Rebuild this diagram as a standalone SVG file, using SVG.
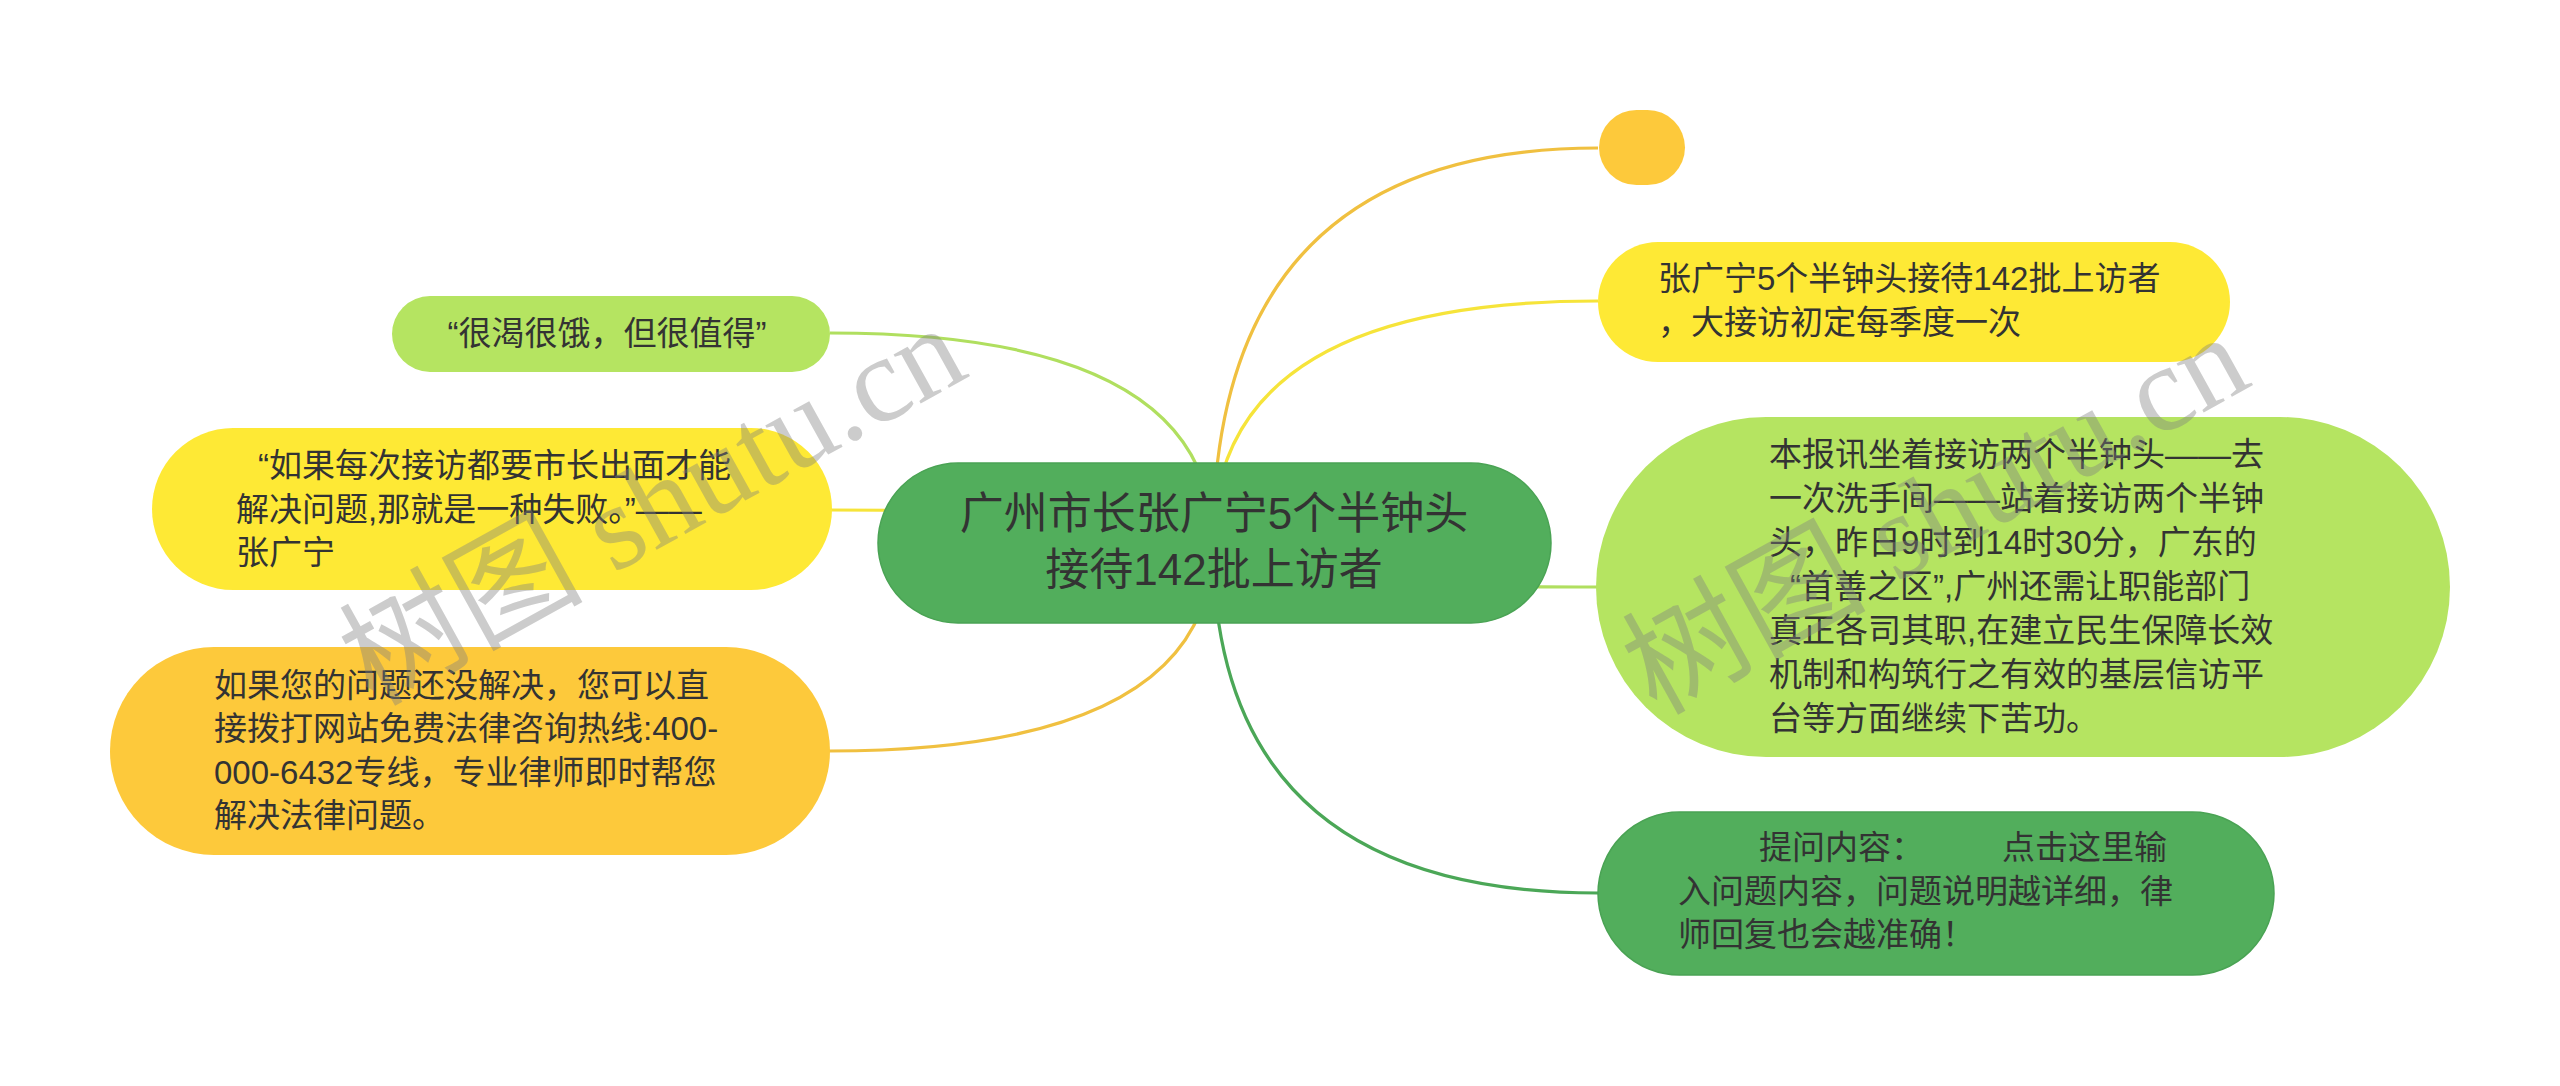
<svg xmlns="http://www.w3.org/2000/svg" width="2560" height="1086" viewBox="0 0 2560 1086">
<style>
.t{font-family:"Liberation Sans","Noto Sans CJK SC",sans-serif;font-size:33px;fill:#333333}
.c{font-size:44px}
.ln{fill:none;stroke-width:3.2}
.wm{font-family:"Liberation Serif","Noto Sans CJK SC",serif;font-size:122px;fill:#808080;fill-opacity:0.4}
</style>
<rect width="2560" height="1086" fill="#ffffff"/>
<g id="connectors">
<path class="ln" stroke="#f0c040" d="M1213 543 Q1213 148 1598 148"/>
<path class="ln" stroke="#f6e43a" d="M1213 543 Q1213 301 1598 301"/>
<path class="ln" stroke="#b0df5f" d="M1213 543 Q1213 587 1598 587"/>
<path class="ln" stroke="#4ba757" d="M1213 543 Q1213 893 1598 893"/>
<path class="ln" stroke="#b0df5f" d="M1213 543 Q1213 333 830 333"/>
<path class="ln" stroke="#f6e43a" d="M1213 543 Q1213 510 830 510"/>
<path class="ln" stroke="#f0c040" d="M1213 543 Q1213 751 829 751"/>
</g>
<g id="center">
<rect x="878" y="463" width="673" height="160" rx="80" fill="#52ae5c" stroke="#4aa354" stroke-width="1.5"/>
<text class="t c" text-anchor="middle"><tspan x="1214" y="529">广州市长张广宁5个半钟头</tspan><tspan x="1214" y="585">接待142批上访者</tspan></text>
</g>
<g id="node-circle">
<rect x="1599" y="110" width="86" height="75" rx="37.5" fill="#fdc93b"/>
</g>
<g id="node-top-right">
<rect x="1598" y="242" width="632" height="120" rx="60" fill="#fee935"/>
<text class="t"><tspan x="1658" y="290">张广宁5个半钟头接待142批上访者</tspan><tspan x="1658" y="334">，大接访初定每季度一次</tspan></text>
</g>
<g id="node-big-right">
<rect x="1596" y="417" width="854" height="340" rx="170" fill="#b5e461"/>
<text class="t"><tspan x="1769" y="466">本报讯坐着接访两个半钟头——去</tspan><tspan x="1769" y="510">一次洗手间——站着接访两个半钟</tspan><tspan x="1769" y="554">头，昨日9时到14时30分，广东的</tspan><tspan x="1790" y="598">“首善之区”,广州还需让职能部门</tspan><tspan x="1769" y="642">真正各司其职,在建立民生保障长效</tspan><tspan x="1769" y="686">机制和构筑行之有效的基层信访平</tspan><tspan x="1769" y="730">台等方面继续下苦功。</tspan></text>
</g>
<g id="node-bottom-right">
<rect x="1598" y="812" width="676" height="163" rx="81.5" fill="#52ae5c" stroke="#4aa354" stroke-width="1.5"/>
<text class="t"><tspan x="1759" y="859">提问内容：</tspan><tspan x="2002" y="859">点击这里输</tspan><tspan x="1678" y="903">入问题内容，问题说明越详细，律</tspan><tspan x="1678" y="946">师回复也会越准确！</tspan></text>
</g>
<g id="node-left-1">
<rect x="392" y="296" width="438" height="76" rx="38" fill="#b5e461"/>
<text class="t" text-anchor="middle" x="607" y="345">“很渴很饿，但很值得”</text>
</g>
<g id="node-left-2">
<rect x="152" y="428" width="680" height="162" rx="81" fill="#fee935"/>
<text class="t"><tspan x="258" y="477">“如果每次接访都要市长出面才能</tspan><tspan x="236" y="521">解决问题,那就是一种失败。”——</tspan><tspan x="236" y="564">张广宁</tspan></text>
</g>
<g id="node-left-3">
<rect x="110" y="647" width="720" height="208" rx="104" fill="#fdc93b"/>
<text class="t"><tspan x="214" y="697">如果您的问题还没解决，您可以直</tspan><tspan x="214" y="740">接拨打网站免费法律咨询热线:400-</tspan><tspan x="214" y="784">000-6432专线，专业律师即时帮您</tspan><tspan x="214" y="827">解决法律问题。</tspan></text>
</g>
<g id="watermarks">
<text class="wm" transform="translate(373 707) rotate(-29)">树图 shutu.cn</text>
<text class="wm" transform="translate(1656 716) rotate(-29)">树图 shutu.cn</text>
</g>
</svg>
